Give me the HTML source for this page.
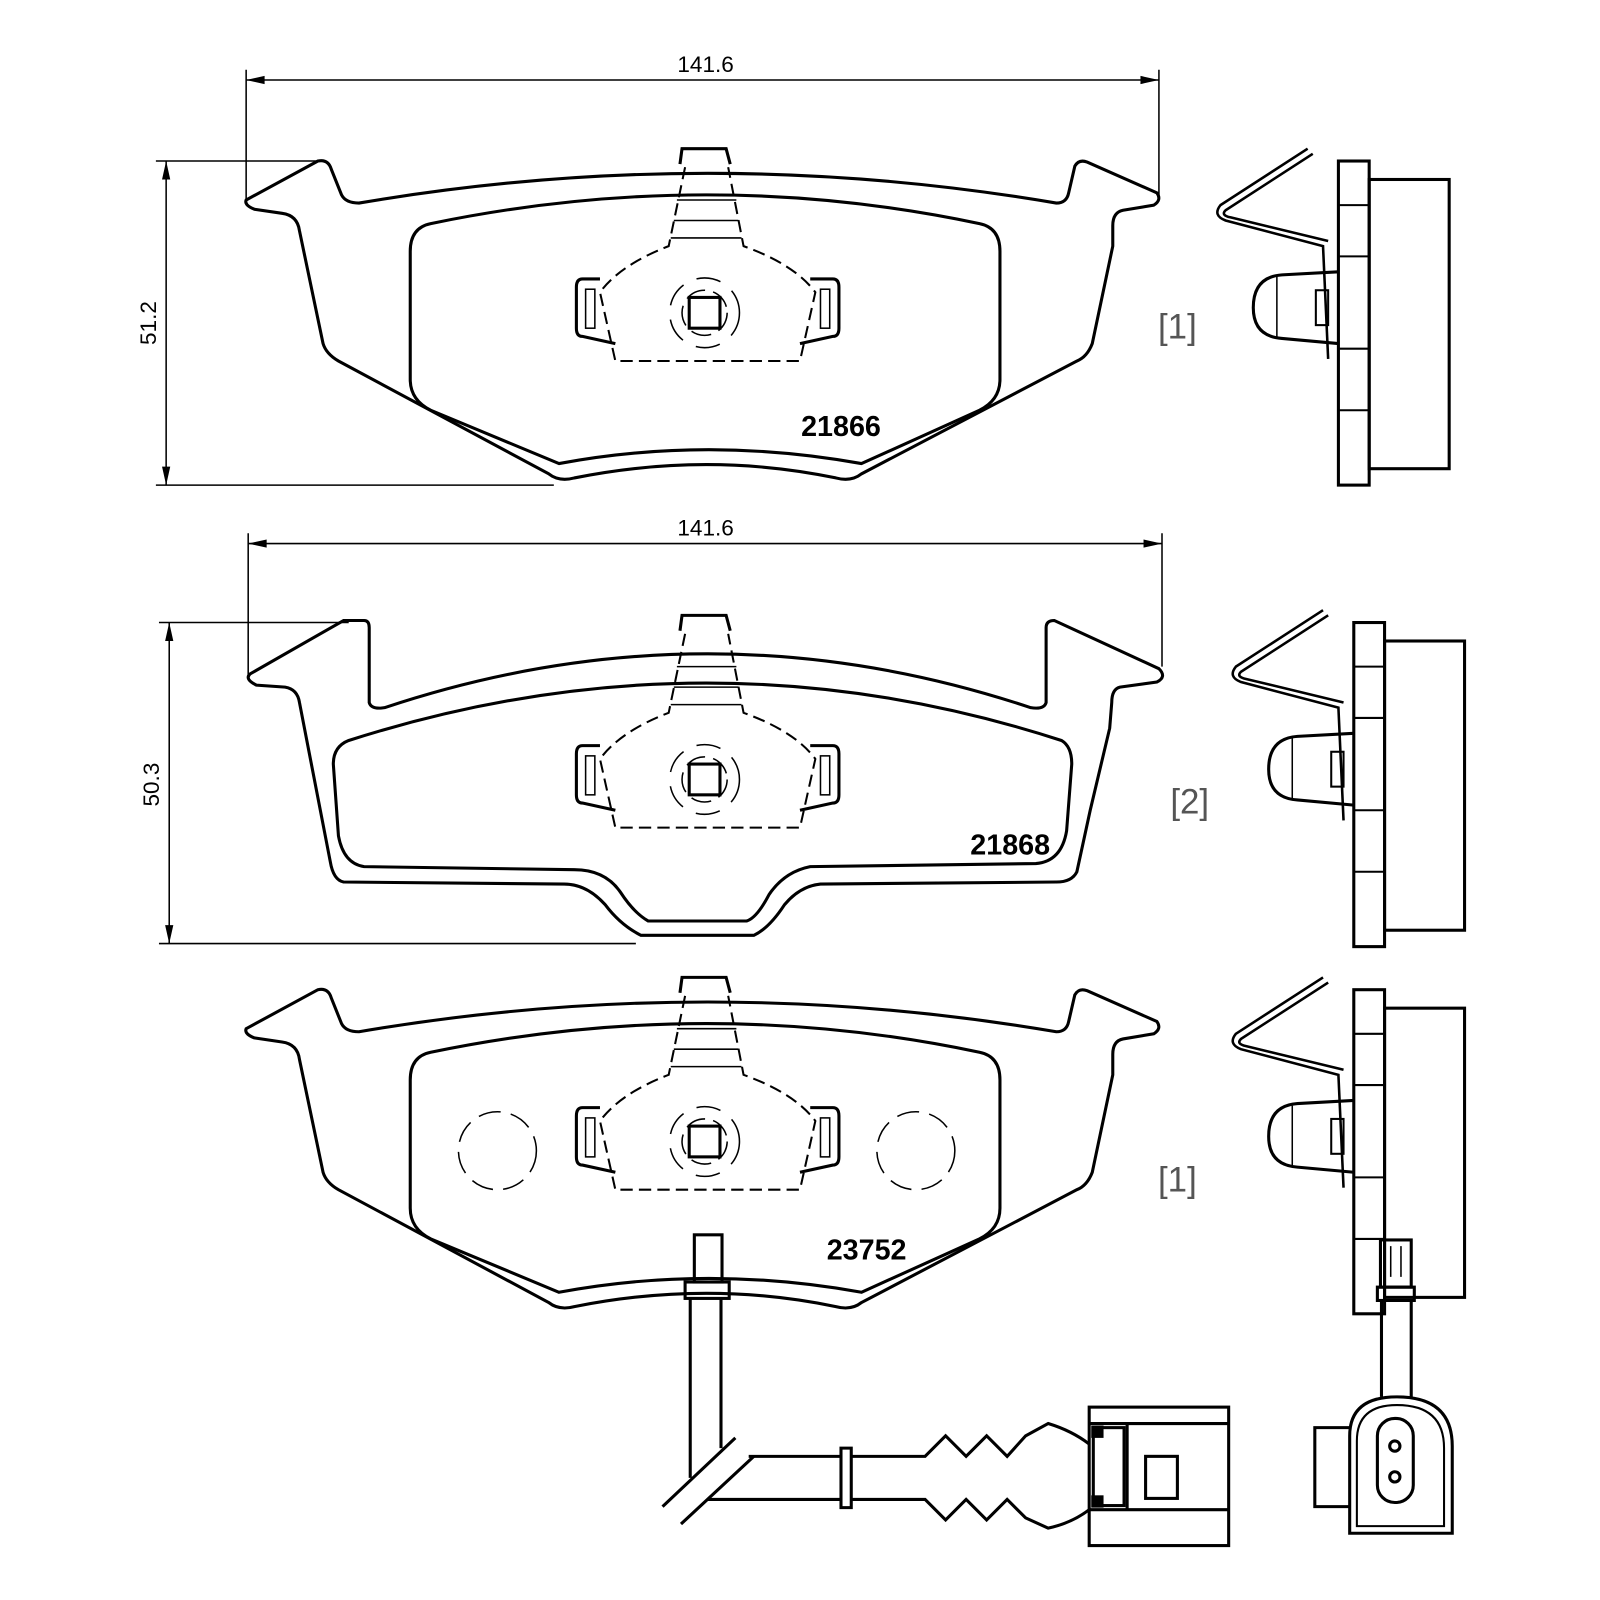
<!DOCTYPE html>
<html><head><meta charset="utf-8"><style>
html,body{margin:0;padding:0;background:#fff;overflow:hidden}
svg{display:block}
text{font-family:"Liberation Sans",sans-serif}
</style></head><body>
<svg width="1600" height="1600" viewBox="0 0 1600 1600" xmlns="http://www.w3.org/2000/svg">
<defs>
<g id="center">
  <path d="M668,163 L652,240 Q605,258 585,285 L600,352 L780,352 L795,285 Q775,258 725,240 L710,163" fill="none" stroke="#000" stroke-width="2" stroke-dasharray="12,6"/>
  <path d="M663,160 L665,145 L708,145 L712,160" fill="none" stroke="#000" stroke-width="3"/>
  <g stroke="#000" stroke-width="1.5"><line x1="660" y1="195" x2="718" y2="195"/><line x1="657" y1="215" x2="720" y2="215"/><line x1="654" y1="232" x2="723" y2="232"/></g>
  <path d="M585,272 L568,272 Q562,272 562,280 L562,320 Q562,328 568,328 L600,335" fill="none" stroke="#000" stroke-width="3"/>
  <path d="M790,272 L812,272 Q818,272 818,280 L818,320 Q818,328 812,328 L780,335" fill="none" stroke="#000" stroke-width="3"/>
  <rect x="571" y="282" width="9" height="38" fill="none" stroke="#000" stroke-width="1.5"/>
  <rect x="800" y="282" width="9" height="38" fill="none" stroke="#000" stroke-width="1.5"/>
  <rect x="672" y="290" width="30" height="30" fill="none" stroke="#000" stroke-width="3"/>
  <circle cx="687" cy="305" r="22" fill="none" stroke="#000" stroke-width="1.5" stroke-dasharray="20,8"/>
  <circle cx="687" cy="305" r="34" fill="none" stroke="#000" stroke-width="1.5" stroke-dasharray="24,14"/>
</g>
<g id="pad1">
  <path d="M240,195 L310,157 Q320,155 323,165 L333,190 Q337,198 350,198 Q690,140 1030,198 Q1040,198 1042,188 L1048,162 Q1052,155 1060,158 L1128,188 Q1133,195 1125,200 L1095,205 Q1085,207 1085,220 L1085,240 L1065,335 Q1060,348 1050,352 L840,462 Q830,470 815,466 Q690,440 560,466 Q545,470 535,462 L330,352 Q318,345 315,335 L292,225 Q290,210 275,208 L248,204 Q238,200 240,195 Z" fill="none" stroke="#000" stroke-width="3"/>
  <path d="M420,218 Q690,162 955,218 Q975,222 975,245 L975,370 Q975,390 955,400 L840,452 Q690,425 545,452 L420,400 Q400,390 400,370 L400,245 Q400,222 420,218 Z" fill="none" stroke="#000" stroke-width="3"/>
  <use href="#center"/>
</g>
<g id="side">
  <rect x="1305" y="157" width="30" height="316" fill="none" stroke="#000" stroke-width="3"/>
  <rect x="1335" y="175" width="78" height="282" fill="none" stroke="#000" stroke-width="3"/>
  <g stroke="#000" stroke-width="2"><line x1="1305" y1="200" x2="1335" y2="200"/><line x1="1305" y1="250" x2="1335" y2="250"/><line x1="1305" y1="340" x2="1335" y2="340"/><line x1="1305" y1="400" x2="1335" y2="400"/></g>
  <path d="M1275,145 L1190,200 Q1182,210 1195,215 L1290,240 L1295,350 M1280,150 L1195,205 Q1190,210 1200,212 L1295,235" fill="none" stroke="#000" stroke-width="2.5"/>
  <path d="M1305,265 L1250,268 Q1222,270 1222,300 Q1222,328 1250,330 L1305,335" fill="none" stroke="#000" stroke-width="3"/>
  <line x1="1245" y1="270" x2="1245" y2="330" stroke="#000" stroke-width="1.5"/>
  <rect x="1283" y="283" width="12" height="34" fill="none" stroke="#000" stroke-width="2"/>
</g>
</defs>

<g transform="scale(1.0256)">
<!-- dimensions -->
<g stroke="#000" stroke-width="1.5" fill="none">
  <line x1="240" y1="68" x2="240" y2="195"/><line x1="1130" y1="68" x2="1130" y2="190"/>
  <line x1="240" y1="78" x2="1130" y2="78"/>
  <line x1="152" y1="157" x2="310" y2="157"/><line x1="152" y1="473" x2="540" y2="473"/>
  <line x1="162" y1="157" x2="162" y2="473"/>
  <line x1="242" y1="520" x2="242" y2="660"/><line x1="1133" y1="520" x2="1133" y2="650"/>
  <line x1="242" y1="530" x2="1133" y2="530"/>
  <line x1="155" y1="607" x2="340" y2="607"/><line x1="155" y1="920" x2="620" y2="920"/>
  <line x1="165" y1="607" x2="165" y2="920"/>
</g>
<g fill="#000">
  <path d="M240,78 l18,-4 v8z M1130,78 l-18,-4 v8z M162,157 l-4,18 h8z M162,473 l-4,-18 h8z"/>
  <path d="M242,530 l18,-4 v8z M1133,530 l-18,-4 v8z M165,607 l-4,18 h8z M165,920 l-4,-18 h8z"/>
</g>
<text x="688" y="70" font-size="22" text-anchor="middle">141.6</text>
<text x="688" y="522" font-size="22" text-anchor="middle">141.6</text>
<text transform="translate(152,315) rotate(-90)" font-size="22" text-anchor="middle">51.2</text>
<text transform="translate(155,765) rotate(-90)" font-size="22" text-anchor="middle">50.3</text>

<use href="#pad1"/>
<use href="#side"/>
<text x="820" y="425" font-size="28" font-weight="bold" text-anchor="middle">21866</text>
<text x="1148" y="330" font-size="34" fill="#555" text-anchor="middle">[1]</text>

<!-- pad 2 -->
<path d="M244,657 L335,605 L355,605 Q360,605 360,612 L360,685 Q362,692 375,690 Q690,585 1005,690 Q1018,692 1020,685 L1020,612 Q1020,605 1028,605 L1130,652 Q1138,660 1128,665 L1092,670 Q1084,672 1084,685 L1082,710 L1063,790 L1050,850 Q1045,860 1030,860 L800,862 Q780,864 765,882 Q750,905 735,912 L625,912 Q605,902 590,882 Q572,862 550,862 L335,860 Q325,858 322,840 L292,685 Q290,672 278,670 L250,668 Q238,662 244,657 Z" fill="none" stroke="#000" stroke-width="3"/>
<path d="M340,722 Q690,610 1035,722 Q1045,728 1045,745 L1040,810 Q1035,840 1010,842 L790,845 Q765,850 750,872 Q738,895 728,898 L632,898 Q618,890 605,870 Q590,848 560,848 L355,845 Q335,842 330,815 L325,745 Q325,728 340,722 Z" fill="none" stroke="#000" stroke-width="3"/>
<use href="#center" transform="translate(0,455)"/>
<g transform="translate(15,450)"><use href="#side"/></g>
<text x="985" y="833" font-size="28" font-weight="bold" text-anchor="middle">21868</text>
<text x="1160" y="793" font-size="34" fill="#555" text-anchor="middle">[2]</text>

<!-- pad 3 -->
<use href="#pad1" transform="translate(0,808)"/>
<circle cx="485" cy="1122" r="38" fill="none" stroke="#000" stroke-width="1.5" stroke-dasharray="22,10"/>
<circle cx="893" cy="1122" r="38" fill="none" stroke="#000" stroke-width="1.5" stroke-dasharray="22,10"/>
<g transform="translate(15,808)"><use href="#side"/></g>
<text x="845" y="1228" font-size="28" font-weight="bold" text-anchor="middle">23752</text>
<text x="1148" y="1162" font-size="34" fill="#555" text-anchor="middle">[1]</text>

<!-- wire front -->
<g fill="none" stroke="#000" stroke-width="3">
  <rect x="677" y="1204" width="27" height="46"/>
  <rect x="668" y="1250" width="43" height="16"/>
  <path d="M673,1266 L673,1441 M703,1266 L703,1412"/>
  <path d="M646,1469 L717,1402 M664,1486 L735,1420"/>
  <path d="M730,1420 L820,1420 M690,1462 L820,1462"/>
  <path d="M820,1412 L830,1412 L830,1470 L820,1470 Z"/>
  <path d="M830,1420 L902,1420 L922,1400 L942,1420 L962,1400 L982,1420 L1000,1400 L1022,1388 Q1045,1395 1062,1408"/>
  <path d="M830,1462 L902,1462 L922,1482 L942,1462 L962,1482 L982,1462 L1000,1480 L1022,1490 Q1045,1485 1062,1472"/>
  <rect x="1062" y="1372" width="136" height="135"/>
  <path d="M1062,1388 L1198,1388 M1062,1472 L1198,1472 M1099,1388 L1099,1472"/>
  <rect x="1066" y="1392" width="30" height="76"/>
  <rect x="1117" y="1420" width="31" height="41"/>
</g>
<rect x="1064" y="1390" width="12" height="12" fill="#000"/>
<rect x="1064" y="1458" width="12" height="12" fill="#000"/>
<!-- wire side -->
<g fill="none" stroke="#000" stroke-width="3">
  <rect x="1346" y="1209" width="30" height="46"/>
  <path d="M1356,1215 v30 M1366,1215 v30" stroke-width="1.5"/>
  <rect x="1343" y="1255" width="36" height="13"/>
  <path d="M1347,1268 L1347,1362 M1376,1268 L1376,1362"/>
  <path d="M1316,1495 L1316,1400 Q1316,1362 1362,1362 Q1416,1362 1416,1410 L1416,1495 Z"/>
  <path d="M1323,1488 L1323,1405 Q1323,1370 1362,1370 Q1408,1370 1408,1412 L1408,1488 Z" stroke-width="2"/>
  <path d="M1316,1392 L1282,1392 L1282,1469 L1316,1469"/>
  <rect x="1343" y="1383" width="35" height="82" rx="17"/>
  <circle cx="1360" cy="1410" r="5"/><circle cx="1360" cy="1440" r="5"/>
</g>
</g>
</svg>
</body></html>
